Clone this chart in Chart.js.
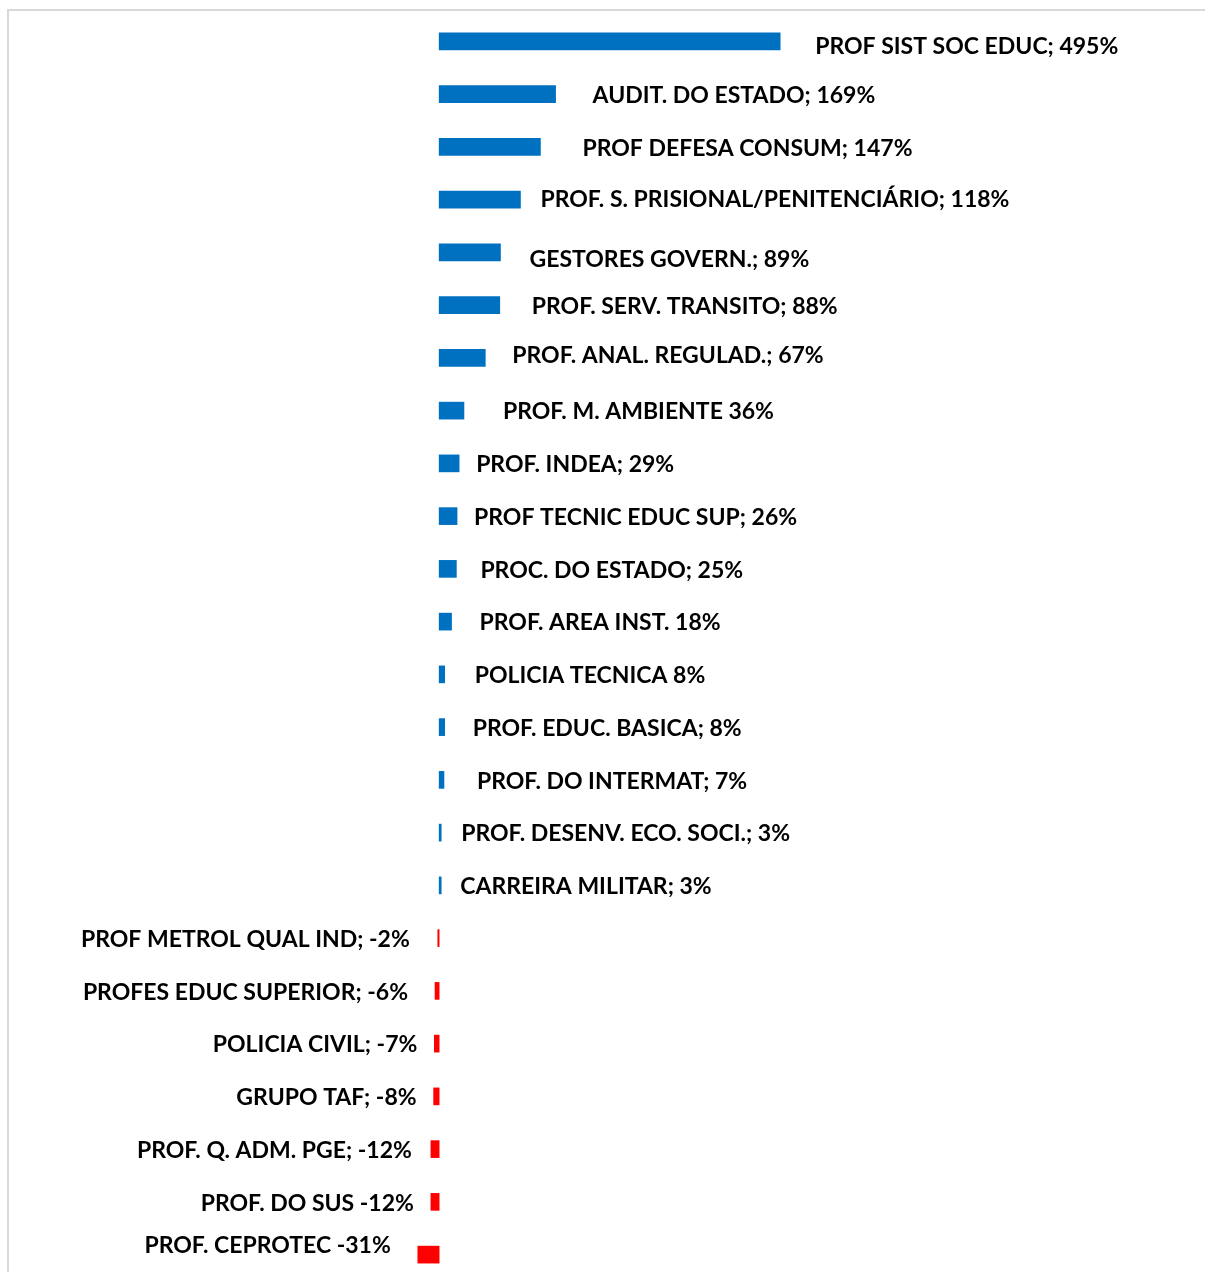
<!DOCTYPE html>
<html>
<head>
<meta charset="utf-8">
<script src="https://cdn.jsdelivr.net/npm/chart.js@4.4.1/dist/chart.umd.min.js"></script>
<style>
  html, body { margin: 0; padding: 0; background: #ffffff; overflow: hidden; }
  #wrap { position: relative; width: 1205px; height: 1290px; }
</style>
</head>
<body>
<div id="wrap"><canvas id="chart"></canvas></div>
<script>
// Carreiras e variação percentual
const categories = [
  'PROF SIST SOC EDUC', 'AUDIT. DO ESTADO', 'PROF DEFESA CONSUM',
  'PROF. S. PRISIONAL/PENITENCIÁRIO', 'GESTORES GOVERN.', 'PROF. SERV. TRANSITO',
  'PROF. ANAL. REGULAD.', 'PROF. M. AMBIENTE', 'PROF. INDEA',
  'PROF TECNIC EDUC SUP', 'PROC. DO ESTADO', 'PROF. AREA INST.',
  'POLICIA TECNICA', 'PROF. EDUC. BASICA', 'PROF. DO INTERMAT',
  'PROF. DESENV. ECO. SOCI.', 'CARREIRA MILITAR', 'PROF METROL QUAL IND',
  'PROFES EDUC SUPERIOR', 'POLICIA CIVIL', 'GRUPO TAF',
  'PROF. Q. ADM. PGE', 'PROF. DO SUS', 'PROF. CEPROTEC'
];
const values = [
  495, 169, 147, 118, 89, 88, 67, 36, 29, 26, 25, 18,
  8, 8, 7, 3, 3, -2, -6, -7, -8, -12, -12, -31
];
// separator between name and value in each data label
const labelSep = [
  '; ', '; ', '; ', '; ', '; ', '; ', '; ', ' ', '; ', '; ', '; ', ' ',
  ' ', '; ', '; ', '; ', '; ', '; ', '; ', '; ', '; ', '; ', ' ', ' '
];

// label placement: gap from bar end (px) and vertical shift (px)
const labelGap = [35, 37, 42, 20, 29, 32, 27, 39, 17, 17, 24, 28, 30, 28, 33, 20, 19,
                  28, 27, 17, 17, 19, 17, 27];
const labelShift = [5, 1.5, 2, 0, 7.5, 1.5, -2, 0.7, 1.3, 1.3, 1.3, 1.3, 1.3, 1.3, 1.3, 1.3, 1.3,
                    1.3, 1.3, 1.3, 1.3, 1.3, 1.3, -9];

const BLUE = '#0070C0';
const RED = '#FF0000';
const FONT = 'bold 23px Lato, "Open Sans", sans-serif';

const frame = {
  id: 'frame',
  beforeDraw(chart) {
    const ctx = chart.ctx;
    ctx.save();
    ctx.fillStyle = '#ffffff';
    ctx.fillRect(0, 0, chart.width, chart.height);
    ctx.strokeStyle = '#d9d9d9';
    ctx.lineWidth = 2;
    ctx.strokeRect(8, 10, chart.width + 20, chart.height + 20);
    ctx.restore();
  }
};

const barLabels = {
  id: 'barLabels',
  afterDatasetsDraw(chart) {
    const ctx = chart.ctx;
    const meta = chart.getDatasetMeta(0);
    ctx.save();
    ctx.font = FONT;
    ctx.fillStyle = '#000000';
    ctx.textBaseline = 'middle';
    meta.data.forEach((bar, i) => {
      const v = values[i];
      const text = categories[i] + labelSep[i] + v + '%';
      const y = bar.y + labelShift[i];
      if (v >= 0) {
        ctx.textAlign = 'left';
        ctx.fillText(text, bar.x + labelGap[i], y);
      } else {
        ctx.textAlign = 'right';
        ctx.fillText(text, bar.x - labelGap[i], y);
      }
    });
    ctx.restore();
  }
};

new Chart(document.getElementById('chart'), {
  type: 'bar',
  data: {
    labels: categories,
    datasets: [{
      data: values,
      backgroundColor: values.map(v => v >= 0 ? BLUE : RED),
      borderWidth: 0,
      barThickness: 17
    }]
  },
  options: {
    indexAxis: 'y',
    responsive: true,
    maintainAspectRatio: false,
    animation: false,
    layout: { padding: { left: 12, right: 8, top: 15, bottom: 9 } },
    plugins: {
      legend: { display: false },
      tooltip: { enabled: false }
    },
    scales: {
      x: { display: false, min: -620, max: 1100 },
      y: { display: false, offset: true }
    }
  },
  plugins: [frame, barLabels]
});
</script>
</body>
</html>
